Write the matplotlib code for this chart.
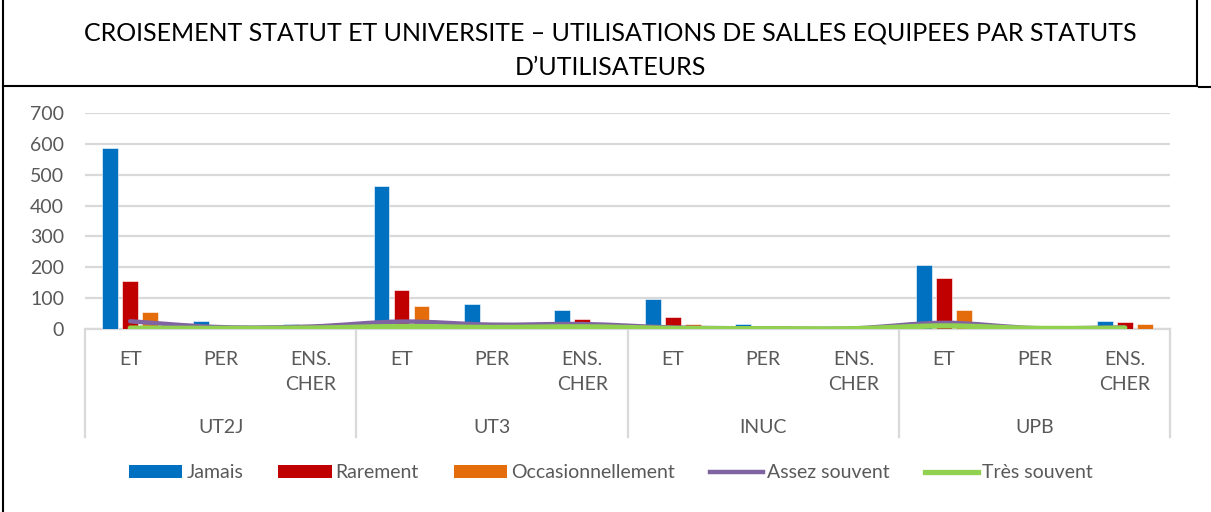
import matplotlib
matplotlib.use("Agg")
import matplotlib.pyplot as plt
from matplotlib.path import Path
from matplotlib.patches import PathPatch, Patch
from matplotlib.lines import Line2D
import numpy as np

plt.rcParams['font.family'] = ['Lato', 'DejaVu Sans']

# ---- data -------------------------------------------------------------
universities = ["UT2J", "UT3", "INUC", "UPB"]
statuses = ["ET", "PER", "ENS.\nCHER"]

jamais = [587, 26, 16, 465, 80, 62, 98, 15, 0, 206, 0, 25]
rarement = [154, 0, 0, 127, 0, 31, 38, 0, 0, 164, 0, 22]
occasionnellement = [56, 0, 0, 75, 0, 0, 15, 0, 0, 61, 0, 17]
assez_souvent = [25, 6, 8, 24, 14, 16, 5, 2, 2, 20, 3, 5]
tres_souvent = [3, 2, 3, 8, 5, 7, 2, 1, 1, 10, 2, 3]

series_names = ["Jamais", "Rarement", "Occasionnellement", "Assez souvent", "Très souvent"]
colors = ["#0070C0", "#C00000", "#E46C0A", "#8064A2", "#92D050"]
y_ticks = [0, 100, 200, 300, 400, 500, 600, 700]

title = ("CROISEMENT STATUT ET UNIVERSITE \u2013 UTILISATIONS DE SALLES EQUIPEES PAR STATUTS\n"
         "D\u2019UTILISATEURS")

# ---- figure -----------------------------------------------------------
W, H = 1211, 512
fig = plt.figure(figsize=(W / 100, H / 100), dpi=100)
fig.patch.set_facecolor("white")

ax = fig.add_axes([85 / W, 1 - 329 / H, (1170 - 85) / W, (329 - 113) / H])
n = len(jamais)
x = np.arange(n)
ax.set_xlim(-0.5, n - 0.5)
ax.set_ylim(0, 700)

bw = 0.174
step = 0.221
for k, vals in enumerate([jamais, rarement, occasionnellement]):
    ax.bar(x + (k - 1) * step, vals, width=bw, color=colors[k],
           edgecolor="white", linewidth=0.4, zorder=3)


def smooth_path(xs, ys):
    """Bezier path through the points, Excel-like smoothing."""
    pts = np.column_stack([xs, ys]).astype(float)
    verts = [pts[0]]
    codes = [Path.MOVETO]
    m = len(pts)
    for i in range(m - 1):
        p0 = pts[i - 1] if i > 0 else pts[i]
        p1 = pts[i]
        p2 = pts[i + 1]
        p3 = pts[i + 2] if i + 2 < m else pts[i + 1]
        c1 = p1 + (p2 - p0) / 6.0
        c2 = p2 - (p3 - p1) / 6.0
        verts += [c1, c2, p2]
        codes += [Path.CURVE4] * 3
    return Path(verts, codes)


for vals, col, lw in [(assez_souvent, colors[3], 3.2), (tres_souvent, colors[4], 3.8)]:
    patch = PathPatch(smooth_path(x, vals), facecolor="none", edgecolor=col,
                      linewidth=lw, capstyle="round", joinstyle="round", zorder=4)
    ax.add_patch(patch)

LABEL_SIZE = 14
ax.set_yticks(y_ticks)
ax.set_yticklabels([str(v) for v in y_ticks])
ax.yaxis.grid(True, color="#D9D9D9", linewidth=1.6, zorder=0)
ax.set_axisbelow(True)
ax.tick_params(axis="y", length=0, pad=15, labelsize=LABEL_SIZE, labelcolor="#595959")
ax.set_xticks([])
for s in ["top", "right", "left"]:
    ax.spines[s].set_visible(False)
ax.spines["bottom"].set_color("#D9D9D9")
ax.spines["bottom"].set_linewidth(1.6)

# category labels and group separators below the axis
trans = ax.get_xaxis_transform()
for i in range(n):
    ax.text(x[i], -0.1, statuses[i % 3], transform=trans, ha="center", va="top",
            fontsize=LABEL_SIZE, color="#595959", linespacing=1.62)
for g, name in enumerate(universities):
    ax.text(3 * g + 1, -0.415, name, transform=trans, ha="center", va="top",
            fontsize=LABEL_SIZE, color="#595959")
for b in range(len(universities) + 1):
    ax.plot([3 * b - 0.5] * 2, [0, -0.5], transform=trans, color="#D9D9D9",
            linewidth=1.6, clip_on=False, zorder=1)

# legend
handles = [Patch(facecolor=colors[0]), Patch(facecolor=colors[1]), Patch(facecolor=colors[2]),
           Line2D([0], [0], color=colors[3], linewidth=3.2),
           Line2D([0], [0], color=colors[4], linewidth=3.8)]
fig.legend(handles, series_names, loc="center", bbox_to_anchor=(611 / W, 1 - 473 / H),
           ncol=5, frameon=False, fontsize=LABEL_SIZE, labelcolor="#595959",
           handlelength=2.75, handleheight=0.6, handletextpad=0.2, columnspacing=1.8)

# title
fig.text(610 / W, 1 - 50 / H, title, ha="center", va="center", fontsize=18,
         color="black", linespacing=1.6)

# cell borders
def hline(y, x0, x1):
    fig.add_artist(Line2D([x0 / W, x1 / W], [1 - y / H, 1 - y / H], color="black", linewidth=1.5))

def vline(xp, y0, y1):
    fig.add_artist(Line2D([xp / W, xp / W], [1 - y0 / H, 1 - y1 / H], color="black", linewidth=1.5))

hline(86, 3, 1197)
hline(87, 1199, 1211)
vline(3, 0, 512)
vline(1197, 0, 86)

fig.savefig("out.png", dpi=100)
